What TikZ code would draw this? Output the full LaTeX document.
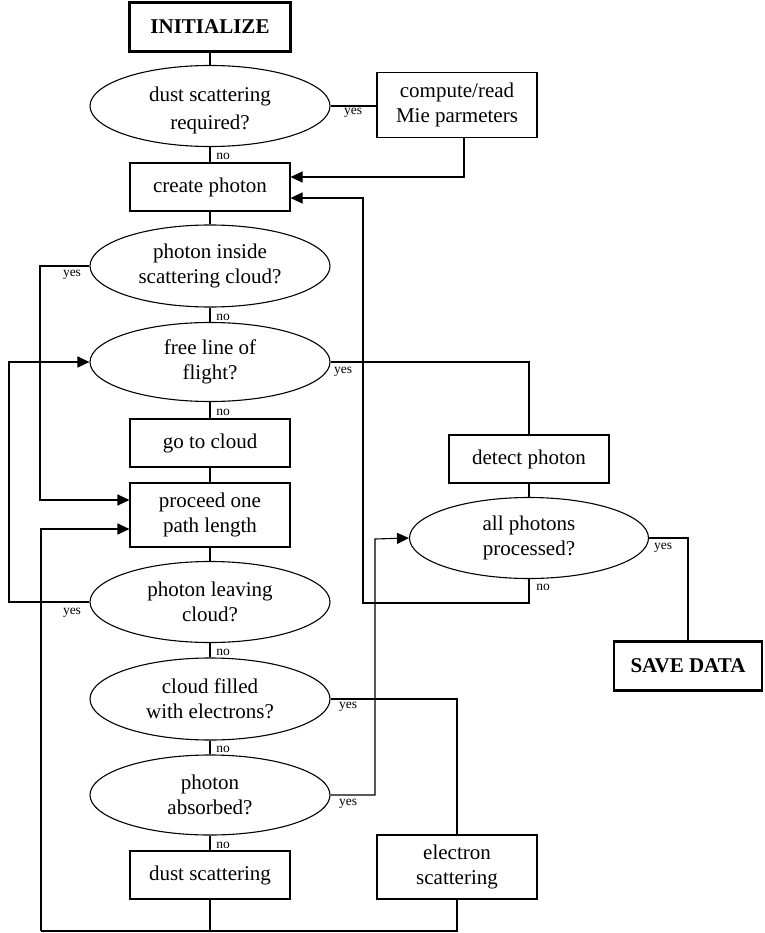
\documentclass[tikz,border=0pt]{standalone}
\usepackage{fontspec}
\setmainfont{Liberation Serif}
\usetikzlibrary{shapes.geometric,arrows.meta}
\begin{document}
\begin{tikzpicture}[x=1pt,y=-1pt,
  every node/.style={font=\fontsize{21}{25}\selectfont},
  box/.style={draw,line width=1.1pt,minimum width=160pt,minimum height=48pt,inner sep=0pt,align=center},
  bigbox/.style={box,minimum height=64pt},
  termbox/.style={draw,line width=2.7pt,minimum height=49pt,inner sep=0pt,font=\fontsize{21}{25}\selectfont\bfseries},
  dec/.style={draw,ellipse,line width=1.1pt,minimum width=240pt,minimum height=81pt,inner sep=0pt,align=center},
  lbl/.style={font=\fontsize{13.5}{15}\selectfont,inner sep=0pt},
  conn/.style={line width=1.1pt},
  arr/.style={conn,-{Triangle[length=12pt,width=11pt]}}
]
\useasboundingbox (0,0) rectangle (764,933);

% main column
\node[termbox,minimum width=161pt] (init) at (210,27) {INITIALIZE};
\node[dec] (e1) at (210,106) {};
\node (e1t) at (210,110) [align=center,font=\fontsize{21}{28}\selectfont] {dust scattering\\required?};
\node[box] (create) at (210,187) {create photon};
\node[dec,minimum height=82pt] (e2) at (210,266) {photon inside\\scattering cloud?};
\node[dec,minimum height=79pt] (e3) at (210,362) {free line of\\flight?};
\node[box] (goto) at (210,443) {go to cloud};
\node[bigbox] (proceed) at (210,515) {proceed one\\path length};
\node[dec] (e4) at (210,602) {photon leaving\\cloud?};
\node[dec,minimum height=82pt] (e5) at (210,699) {cloud filled\\with electrons?};
\node[dec,minimum height=80pt] (e6) at (210,795) {photon\\absorbed?};
\node[box] (dust) at (210,875) {dust scattering};

% right side
\node[bigbox,minimum height=65pt] (mie) at (457,105) {compute/read\\Mie parmeters};
\node[box] (detect) at (529,459) {detect photon};
\node[dec,minimum width=239pt] (e7) at (529,538) {all photons\\processed?};
\node[termbox,minimum width=148pt] (save) at (688,666) {SAVE DATA};
\node[bigbox] (elec) at (457,867) {electron\\scattering};

% helper coordinates
\coordinate (bl) at (41,931);
\coordinate (bm) at (210,931);
\coordinate (br) at (457,931);

% straight connectors
\draw[conn] (init) -- (e1);
\draw[conn] (e1) -- (create);
\draw[conn] (create) -- (e2);
\draw[conn] (e2) -- (e3);
\draw[conn] (e3) -- (goto);
\draw[conn] (goto) -- (proceed);
\draw[conn] (proceed) -- (e4);
\draw[conn] (e4) -- (e5);
\draw[conn] (e5) -- (e6);
\draw[conn] (e6) -- (dust);
\draw[conn] (e1.east) -- (mie.west |- e1.east);
\draw[conn] (detect) -- (e7);

% loops
\draw[arr] ([xshift=7pt]mie.south) |- ([yshift=10pt]create.east);
\draw[arr] (e2.west) -| (40,500) -- ([yshift=15pt]proceed.west);
\draw[conn] (e3.east) -| (detect.north);
\draw[arr] (e4.west) -| (9,362) -- (e3.west);
\draw[conn] (e5.east) -| (elec.north);
\draw[arr] (e6.east) -| (375,539) -- (e7.west);
\draw[conn] (e7.east) -| (save.north);
\draw[arr] (e7.south) |- (363,603) -- (363,198) -- ([yshift=-11pt]create.east);
\draw[conn] (dust.south) -- (bm);
\draw[conn] (elec.south) -- (br) -- (bl);
\draw[arr] (bl) -- (41,529) -- ([yshift=-14pt]proceed.west);

% labels
\node[lbl] (y1) at (353,113) {yes};
\node[lbl] (n1) at (223,156) {no};
\node[lbl] (y2) at (72,275) {yes};
\node[lbl] (n2) at (223,317) {no};
\node[lbl] (y3) at (343,372) {yes};
\node[lbl] (n3) at (223,412) {no};
\node[lbl] (y4) at (72,613) {yes};
\node[lbl] (n4) at (223,652) {no};
\node[lbl] (y5) at (348,707) {yes};
\node[lbl] (n5) at (223,749) {no};
\node[lbl] (y6) at (348,804) {yes};
\node[lbl] (n6) at (223,845) {no};
\node[lbl] (y7) at (663,548) {yes};
\node[lbl] (n7) at (543,587) {no};
\end{tikzpicture}
\end{document}
